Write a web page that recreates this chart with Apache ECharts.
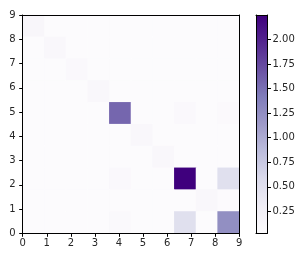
<!DOCTYPE html>
<html><head><meta charset="utf-8">
<script src="https://cdn.jsdelivr.net/npm/echarts@6/dist/echarts.min.js"></script>
<style>html,body{margin:0;padding:0;background:#fff}#c{width:306px;height:259px}</style>
</head><body><div id="c"></div>
<script>
// categories (cell indices)
const xCells = [0,1,2,3,4,5,6,7,8,9];
const yCells = [0,1,2,3,4,5,6,7,8,9];
// values, rows listed from top (row 9) to bottom (row 0)
const row9 = [0.12,0.03,0.03,0.03,0.03,0.03,0.03,0.03,0.03,0.03];
const row8 = [0.03,0.10,0.03,0.03,0.03,0.03,0.03,0.03,0.03,0.03];
const row7 = [0.03,0.03,0.08,0.03,0.03,0.03,0.03,0.03,0.03,0.03];
const row6 = [0.03,0.03,0.03,0.10,0.03,0.03,0.03,0.03,0.03,0.03];
const row5 = [0.03,0.03,0.03,0.03,1.56,0.03,0.03,0.08,0.03,0.06];
const row4 = [0.03,0.03,0.03,0.03,0.03,0.10,0.03,0.03,0.03,0.03];
const row3 = [0.03,0.03,0.03,0.03,0.03,0.03,0.10,0.03,0.03,0.03];
const row2 = [0.03,0.03,0.03,0.03,0.08,0.03,0.03,2.25,0.03,0.50];
const row1 = [0.03,0.03,0.03,0.03,0.03,0.03,0.03,0.03,0.10,0.04];
const row0 = [0.03,0.03,0.03,0.03,0.07,0.03,0.03,0.50,0.03,1.25];
const rowsTopDown = [row9,row8,row7,row6,row5,row4,row3,row2,row1,row0];
// axis tick labels
const axisTicks = [0,1,2,3,4,5,6,7,8,9];
const cbarTicks = [0.25,0.5,0.75,1.0,1.25,1.5,1.75,2.0];
const vMin = 0.03, vMax = 2.25;
const purples = ['#fcfbfd','#efedf5','#dadaeb','#bcbddc','#9e9ac8','#807dba','#6a51a3','#54278f','#3f007d'];

const data = [];
rowsTopDown.forEach((r, i) => {
  const y = yCells.length - 1 - i;
  r.forEach((v, x) => data.push([x, y, v]));
});

const txt = {color:'#262626', fontSize:10, fontFamily:'DejaVu Sans'};
const line = {show:true, onZero:false, lineStyle:{color:'#000', width:1}};
const G = {left:22.7, top:15, width:216.6, height:218.3};
const CB = {left:256, top:15, width:11.5, height:218};

const chart = echarts.init(document.getElementById('c'), null, {renderer:'canvas'});
chart.setOption({
  animation:false,
  grid:[
    Object.assign({}, G),
    Object.assign({}, G),
    Object.assign({}, CB)
  ],
  xAxis:[
    {gridIndex:0, type:'category', data:xCells, show:false},
    {gridIndex:1, type:'value', min:0, max:9, interval:1, position:'bottom', z:10,
     axisLine:line, axisTick:{show:true, length:3.5, lineStyle:{color:'#000'}},
     axisLabel:Object.assign({margin:5.5}, txt), splitLine:{show:false}},
    {gridIndex:1, type:'value', min:0, max:9, position:'top', z:10,
     axisLine:line, axisTick:{show:false}, axisLabel:{show:false}, splitLine:{show:false}},
    {gridIndex:2, type:'value', min:0, max:1, position:'bottom', z:10,
     axisLine:line, axisTick:{show:false}, axisLabel:{show:false}, splitLine:{show:false}},
    {gridIndex:2, type:'value', min:0, max:1, position:'top', z:10,
     axisLine:line, axisTick:{show:false}, axisLabel:{show:false}, splitLine:{show:false}}
  ],
  yAxis:[
    {gridIndex:0, type:'category', data:yCells, show:false},
    {gridIndex:1, type:'value', min:0, max:9, interval:1, position:'left', z:10,
     axisLine:line, axisTick:{show:true, length:3.5, lineStyle:{color:'#000'}},
     axisLabel:Object.assign({margin:7}, txt), splitLine:{show:false}},
    {gridIndex:1, type:'value', min:0, max:9, position:'right', z:10,
     axisLine:line, axisTick:{show:false}, axisLabel:{show:false}, splitLine:{show:false}},
    {gridIndex:2, type:'value', min:vMin, max:vMax, position:'right', z:10,
     axisLine:line,
     axisTick:{show:true, length:3.5, lineStyle:{color:'#000'}, customValues:cbarTicks},
     axisLabel:Object.assign({margin:5, customValues:cbarTicks, formatter:v => v.toFixed(2)}, txt),
     splitLine:{show:false}},
    {gridIndex:2, type:'value', min:vMin, max:vMax, position:'left', z:10,
     axisLine:line, axisTick:{show:false}, axisLabel:{show:false}, splitLine:{show:false}}
  ],
  visualMap:{
    type:'continuous', min:vMin, max:vMax, calculable:false, orient:'vertical',
    left:CB.left, top:CB.top, itemWidth:CB.width, itemHeight:CB.height,
    padding:0, text:null, seriesIndex:0, dimension:2,
    inRange:{color:purples}
  },
  series:[{
    type:'heatmap', xAxisIndex:0, yAxisIndex:0, data:data,
    itemStyle:{borderWidth:0}, emphasis:{disabled:true}
  }]
});
</script></body></html>
